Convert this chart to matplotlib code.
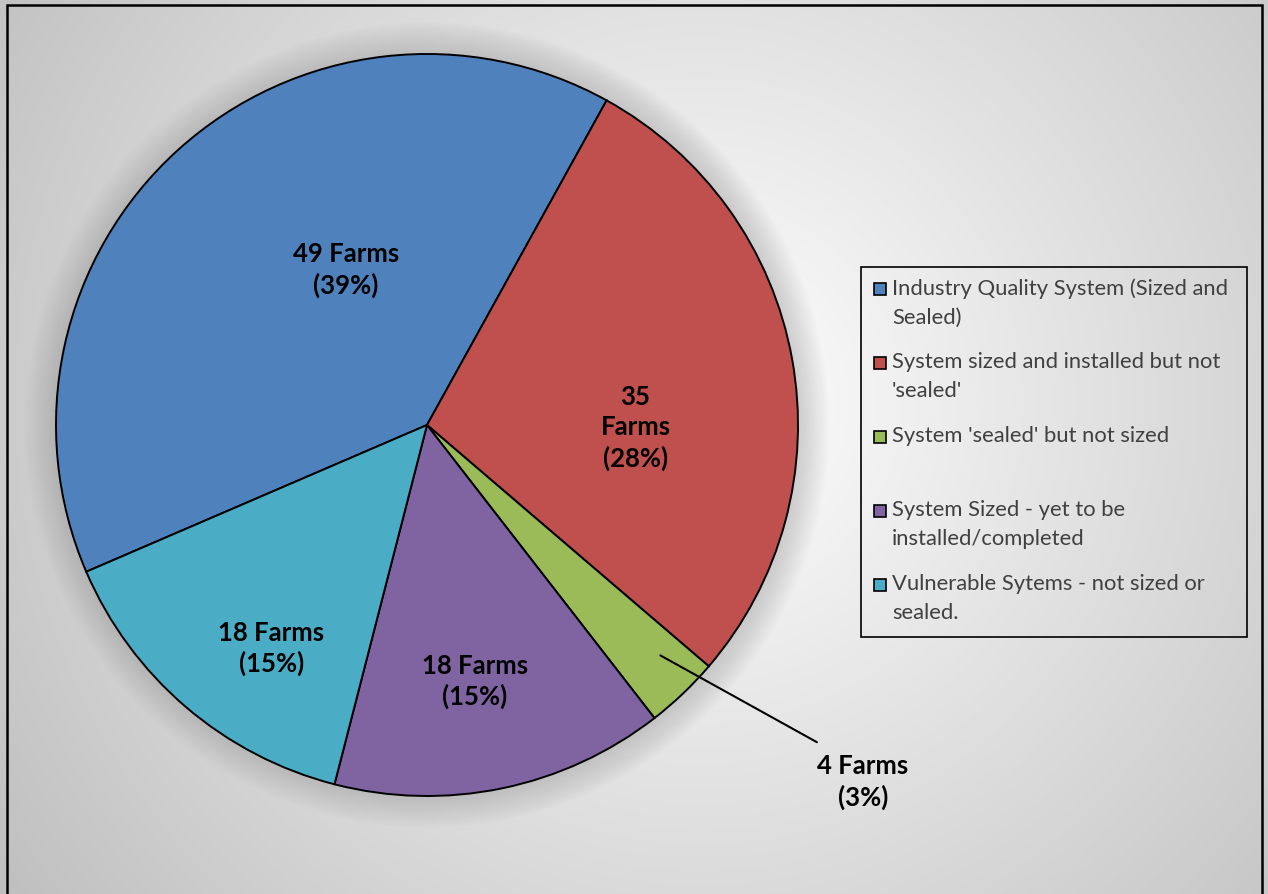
import numpy as np
import matplotlib
matplotlib.use("Agg")
import matplotlib.pyplot as plt
from matplotlib.patches import Rectangle, Circle

# ---- data ----
categories = [
    "Industry Quality System (Sized and\nSealed)",
    "System sized and installed but not\n'sealed'",
    "System 'sealed' but not sized\n",
    "System Sized - yet to be\ninstalled/completed",
    "Vulnerable Sytems - not sized or\nsealed.",
]
farms = [49, 35, 4, 18, 18]
slice_labels = ["49 Farms\n(39%)", "35\nFarms\n(28%)", "4 Farms\n(3%)",
                "18 Farms\n(15%)", "18 Farms\n(15%)"]
colors = ["#4F81BD", "#C0504D", "#9BBB59", "#8064A2", "#4BACC6"]

# label layout (data coords of pie axes, radius 1)
label_pos = [(-0.218, 0.417), (0.562, -0.008), (1.175, -0.962),
             (0.129, -0.691), (-0.419, -0.602)]
leader_start = (0.629, -0.621)
leader_end = (1.051, -0.855)

plt.rcParams['font.family'] = ['Lato', 'DejaVu Sans']

W, H = 1268, 894
fig = plt.figure(figsize=(W / 100, H / 100), dpi=100)

# background radial gradient
bg = fig.add_axes([0, 0, 1, 1])
yy, xx = np.mgrid[0:H, 0:W]
cx, cy = 700, 400
d = np.hypot(xx - cx, yy - cy) / np.hypot(cx, cy + 94)
val = 1.0 - d * (1.0 - 0.75)
img = np.dstack([val, val, val])
bg.imshow(img, extent=[0, W, H, 0], aspect='auto', interpolation='bilinear')
bg.set_xlim(0, W)
bg.set_ylim(H, 0)
bg.axis('off')
# outer border
bg.plot([7, 7, 1262, 1262], [H + 5, 5, 5, H + 5], color='black', lw=1.8,
        solid_joinstyle='miter')

# pie axes
pcx, pcy, r = 427, 425, 371
ax = fig.add_axes([(pcx - r) / W, (H - pcy - r) / H, 2 * r / W, 2 * r / H])
ax.patch.set_alpha(0)

# soft glow shadow
for k in range(14):
    ax.add_patch(Circle((0, 0), 1.0 + 0.006 * (14 - k), color='#808080',
                        alpha=0.025, lw=0, zorder=0, clip_on=False))

startangle = 203.3
wedges, _ = ax.pie(farms, colors=colors, startangle=startangle,
                   counterclock=False, radius=1.0,
                   wedgeprops=dict(edgecolor='black', linewidth=1.4))
for w in wedges:
    w.set_zorder(2)
    w.set_clip_on(False)
ax.set_xlim(-1, 1)
ax.set_ylim(-1, 1)
ax.set_aspect('equal')
ax.axis('off')

for lab, (x, y) in zip(slice_labels, label_pos):
    ax.text(x, y, lab, ha='center', va='center', fontsize=18.5,
            fontweight='bold', color='black', linespacing=1.3,
            zorder=5, clip_on=False)

# leader line for small slice
ax.annotate("", xy=leader_start, xytext=leader_end,
            arrowprops=dict(arrowstyle='-', color='black', lw=1.5,
                            shrinkA=0, shrinkB=0),
            annotation_clip=False, zorder=6)

# legend (manual)
lg = fig.add_axes([0, 0, 1, 1])
lg.set_xlim(0, W)
lg.set_ylim(H, 0)
lg.axis('off')
lg.patch.set_alpha(0)
lg.add_patch(Rectangle((861, 267), 386, 370, facecolor='none',
                       edgecolor='black', lw=1.2))
for i, (cat, col) in enumerate(zip(categories, colors)):
    y0 = 289 + 74 * i
    lg.add_patch(Rectangle((874, y0 - 6), 12, 12, facecolor=col,
                           edgecolor='black', lw=1.2))
    lg.text(892, y0 - 11, cat, ha='left', va='top', fontsize=15.8,
            color='#404040', linespacing=1.55)

fig.savefig("out.png", dpi=100)
